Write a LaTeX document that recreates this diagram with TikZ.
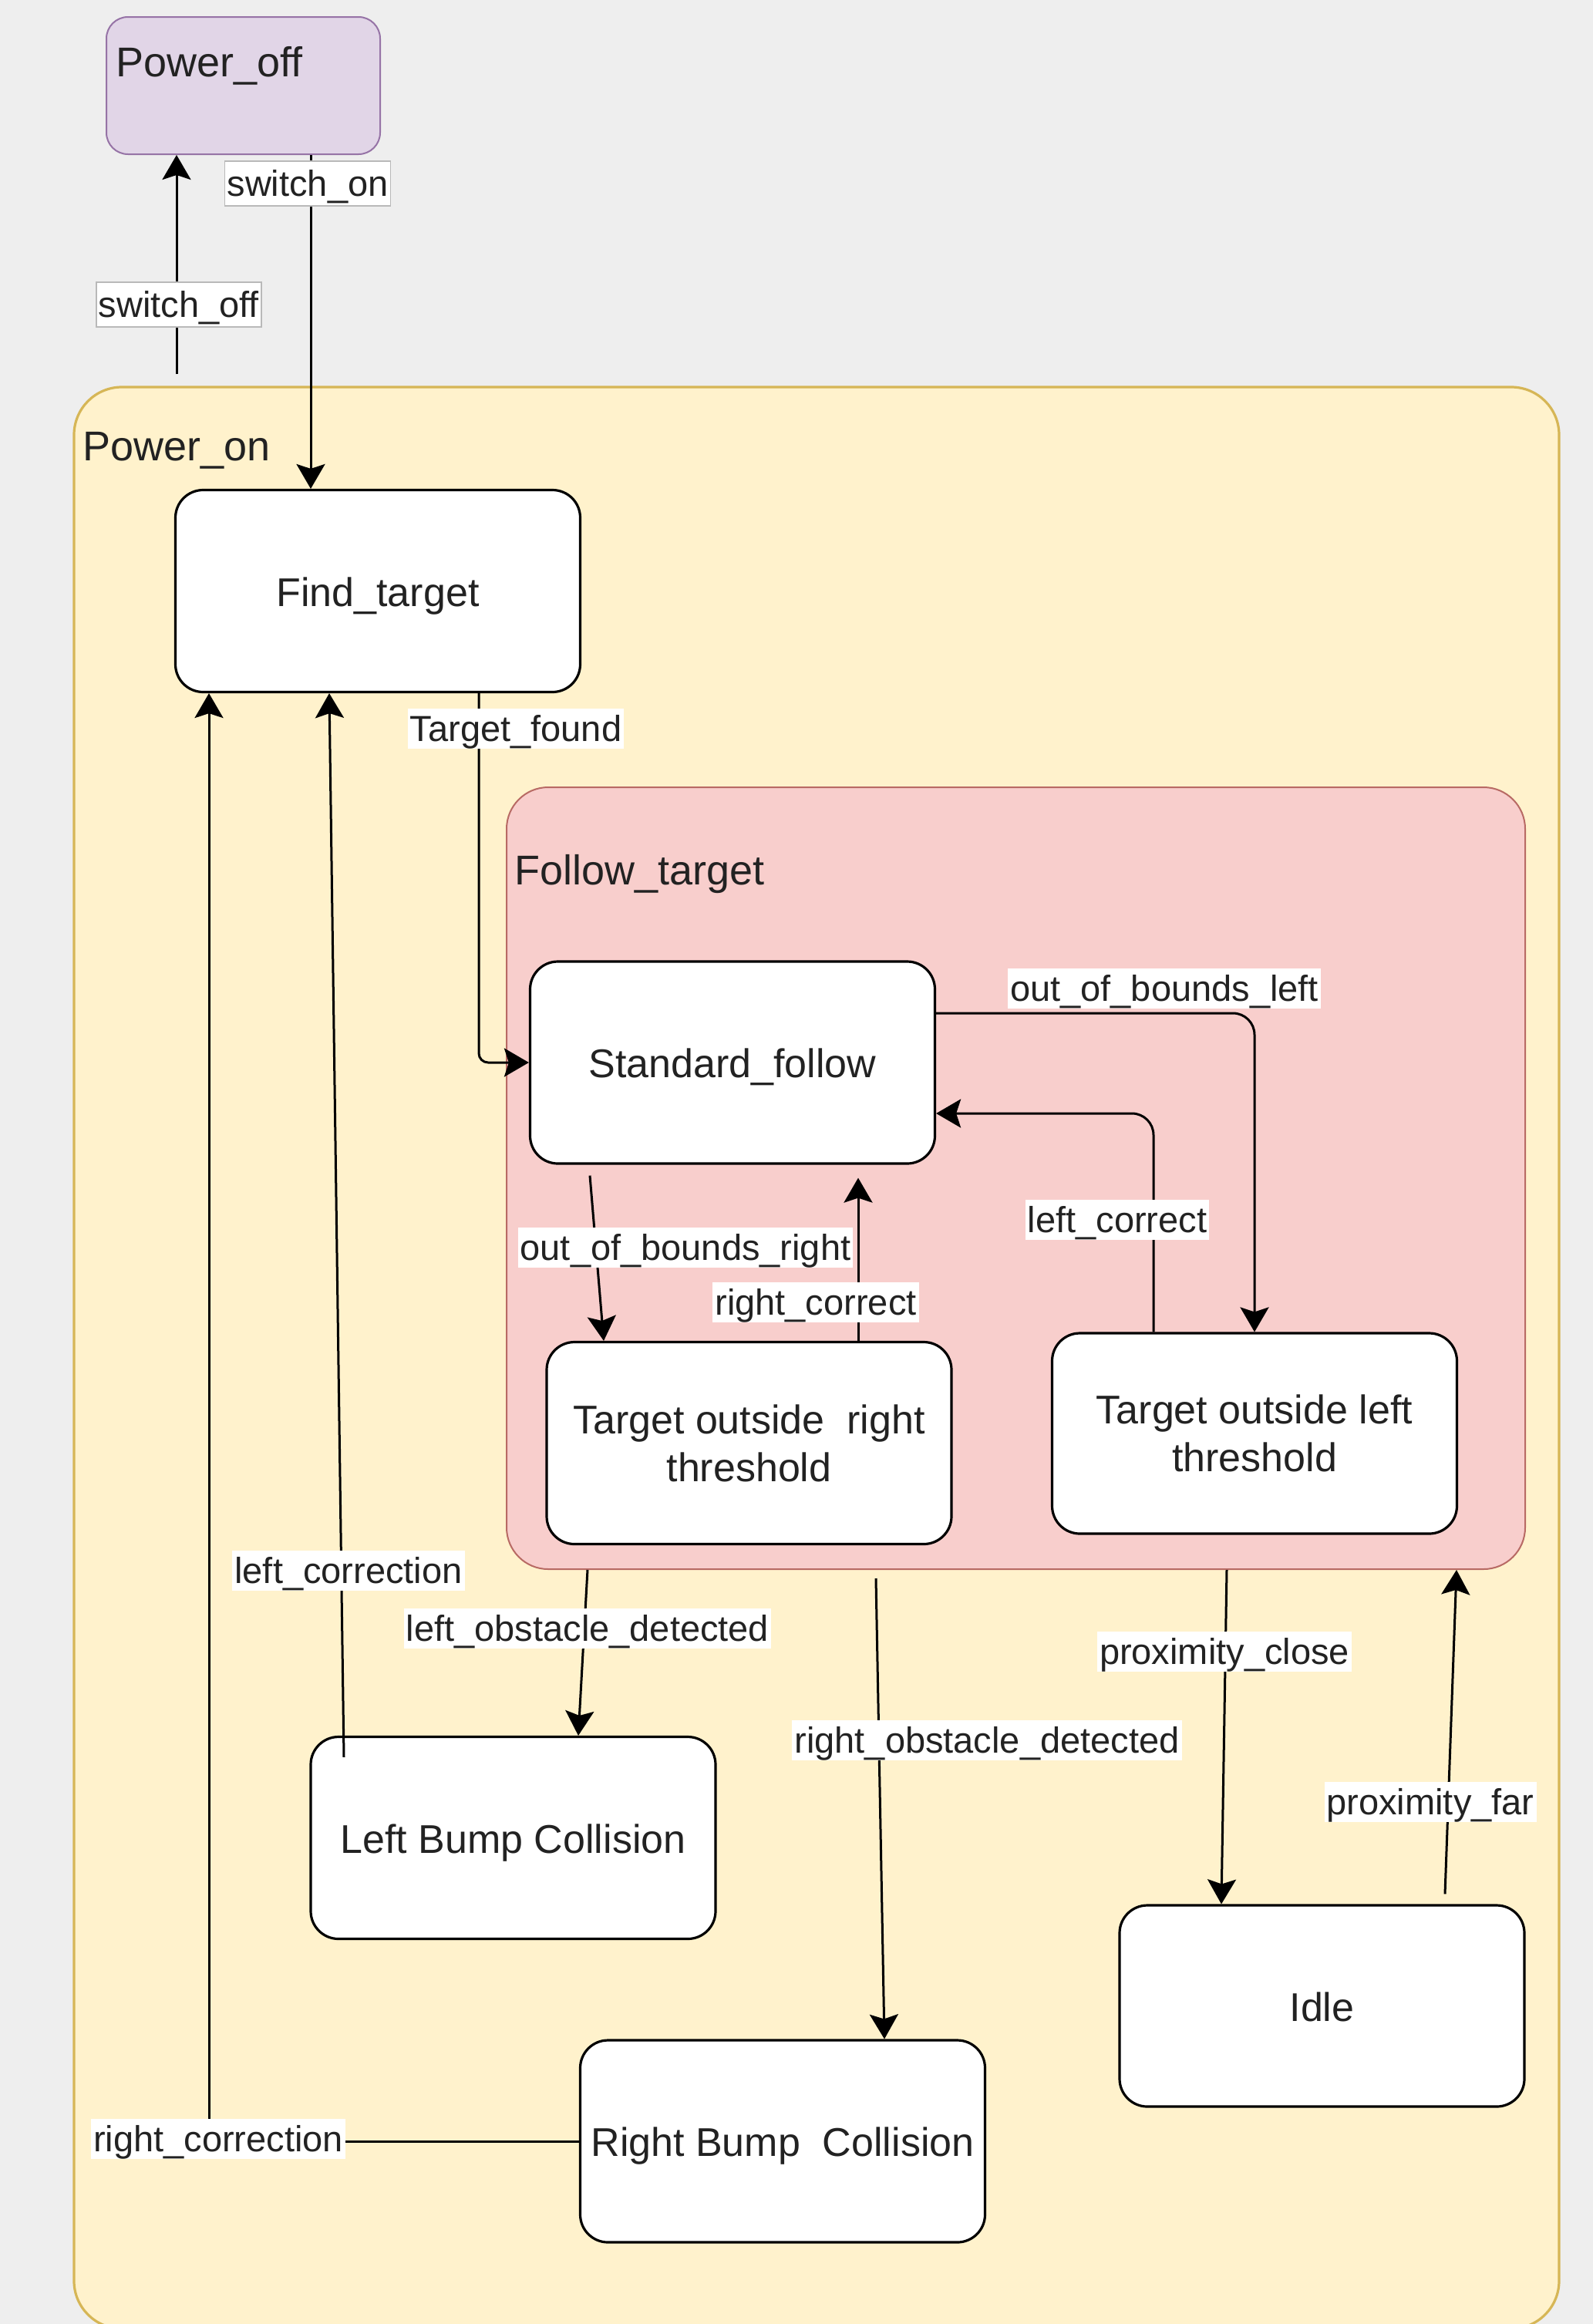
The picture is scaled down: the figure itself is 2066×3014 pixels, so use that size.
\documentclass[tikz,border=0pt]{standalone}
\usepackage{fontspec}
\setmainfont{Liberation Sans}
\usetikzlibrary{arrows.meta}
\definecolor{bggray}{HTML}{EEEEEE}
\definecolor{offfill}{HTML}{E1D5E7}
\definecolor{offdraw}{HTML}{9673A6}
\definecolor{onfill}{HTML}{FFF2CC}
\definecolor{ondraw}{HTML}{D6B656}
\definecolor{folfill}{HTML}{F8CECC}
\definecolor{foldraw}{HTML}{B86A64}
\definecolor{txt}{HTML}{222222}
\begin{document}
\begin{tikzpicture}[x=0.5pt,y=-0.5pt,
  state/.style={draw=black, line width=1.6pt, fill=white, rounded corners=18pt,
    minimum width=262.5pt, minimum height=131pt, font=\fontsize{26}{31}\selectfont,
    text=txt, align=center, inner sep=0pt},
  oneline/.style={text height=24pt, text depth=4.5pt},
  container/.style={line width=1pt, inner sep=0pt},
  arr/.style={draw=black, line width=1.5pt, -{Stealth[length=16pt,width=18.5pt,inset=3pt]}},
  lbl/.style={fill=white, font=\fontsize{23.5}{28}\selectfont, text=txt,
    inner xsep=1.5pt, inner ysep=1pt, text height=20pt, text depth=4pt},
  swlbl/.style={lbl, draw=gray!55, line width=0.6pt, inner ysep=2.5pt},
  title/.style={font=\fontsize{27}{32}\selectfont, text=txt, anchor=base west, inner sep=0pt}
]
\useasboundingbox (0,0) rectangle (2066,3014);
\fill[bggray] (0,0) rectangle (2066,3014);

% containers
\node[container, line width=1.6pt, draw=ondraw, fill=onfill, rounded corners=31pt,
  minimum width=963pt, minimum height=1259pt] (pon) at (1059,1761) {};
\node[container, draw=offdraw, fill=offfill, rounded corners=14pt,
  minimum width=177.5pt, minimum height=89pt] (poff) at (315.5,111) {};
\node[container, draw=foldraw, fill=folfill, rounded corners=27pt,
  minimum width=660.5pt, minimum height=507pt] (fol) at (1317.5,1528) {};

\node[title] (poffT) at (150,99) {Power\_off};
\node[title] (ponT) at (107,597) {Power\_on};
\node[title] (folT) at (667,1147) {Follow\_target};

% states
\node[state, oneline] (find) at (490,766.5) {Find\_target};
\node[state, oneline] (std) at (950,1378) {Standard\_follow};
\node[state] (tor) at (971.5,1871.5) {Target outside\ \ right\\threshold};
\node[state, minimum height=130pt] (tol) at (1627,1859) {Target outside left\\threshold};
\node[state, oneline] (lbc) at (665.5,2383.5) {Left Bump Collision};
\node[state, oneline] (rbc) at (1015,2777) {Right Bump\ \ Collision};
\node[state, oneline, minimum height=130.5pt] (idle) at (1714.5,2601.5) {Idle};

% edges
\draw[arr] ([xshift=-415pt,yshift=7.5pt]pon.north) -- ([xshift=-43.25pt]poff.south);
\draw[arr] ([xshift=43.75pt]poff.south) -- ([xshift=-43.5pt]find.north);
\draw[arr, rounded corners=6pt] ([xshift=65.5pt]find.south) |- (std.west);
\draw[arr, rounded corners=14pt] ([yshift=32pt]std.east) -| (tol.north);
\draw[arr, rounded corners=14pt] ([xshift=-65.5pt]tol.north) |- ([yshift=-33pt]std.east);
\draw[arr] ([xshift=-92.5pt,yshift=-7pt]std.south) -- ([xshift=-94.25pt]tor.north);
\draw[arr] ([xshift=70.75pt]tor.north) -- ([xshift=81.5pt,yshift=-8.5pt]std.south);
\draw[arr] ([xshift=-277.75pt]fol.south) -- ([xshift=42.25pt]lbc.north);
\draw[arr] ([xshift=-90.75pt,yshift=-5.5pt]fol.south) -- ([xshift=66pt]rbc.north);
\draw[arr] (rbc.west) -| ([xshift=-109.5pt]find.south);
\draw[arr] ([xshift=-109.75pt,yshift=-14pt]lbc.north) -- ([xshift=-31.5pt]find.south);
\draw[arr] ([xshift=136.75pt]fol.south) -- ([xshift=-65.25pt]idle.north);
\draw[arr] ([xshift=79.75pt,yshift=6.5pt]idle.north) -- ([xshift=285.75pt]fol.south);

% labels
\node[swlbl] (lswoff) at (232,395) {switch\_off};
\node[swlbl] (lswon) at (399,238) {switch\_on};
\node[lbl] (ltf) at (669,945) {Target\_found};
\node[lbl] (lobl) at (1510,1282) {out\_of\_bounds\_left};
\node[lbl] (llc) at (1449,1582) {left\_correct};
\node[lbl] (lobr) at (889,1618) {out\_of\_bounds\_right};
\node[lbl] (lrc) at (1058,1689) {right\_correct};
\node[lbl] (llod) at (762,2112) {left\_obstacle\_detected};
\node[lbl] (lrod) at (1280,2257) {right\_obstacle\_detected};
\node[lbl] (lrcn) at (283,2774) {right\_correction};
\node[lbl] (llcn) at (452,2037) {left\_correction};
\node[lbl] (lpc) at (1588,2142) {proximity\_close};
\node[lbl] (lpf) at (1855,2337) {proximity\_far};
\end{tikzpicture}
\end{document}
